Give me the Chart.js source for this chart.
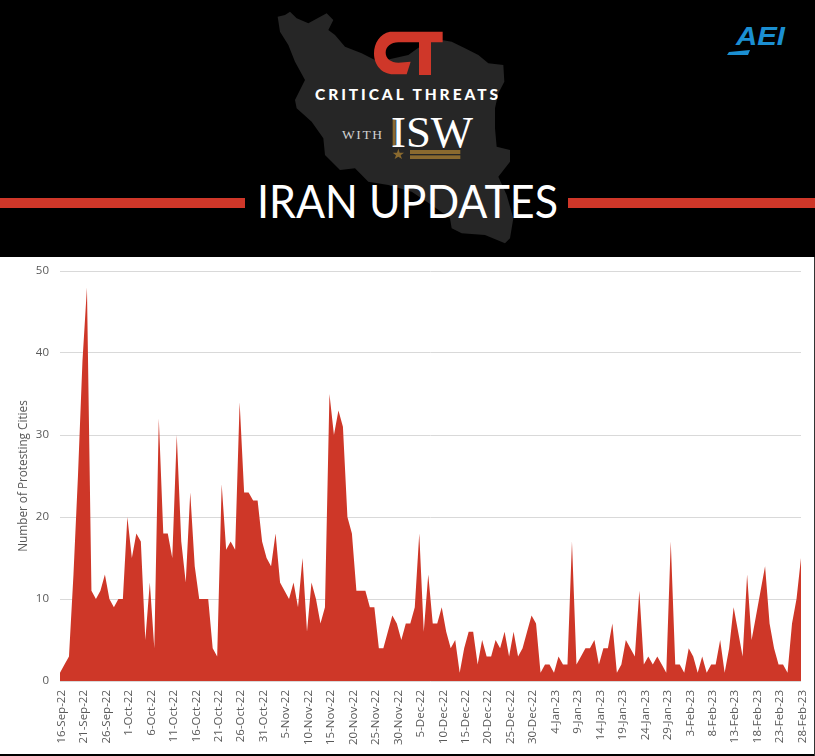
<!DOCTYPE html>
<html><head><meta charset="utf-8">
<style>
html,body{margin:0;padding:0;background:#fff;width:815px;height:756px;overflow:hidden}
#wrap{position:relative;width:815px;height:756px;background:#fff}
#head{position:absolute;left:0;top:0;display:block}
#chart{position:absolute;left:0;top:257px}
#b1{position:absolute;left:0;top:754px;width:815px;height:2px;background:#000}
#b2{position:absolute;left:814px;top:257px;width:1px;height:499px;background:#333}
</style>
<script src="https://cdn.jsdelivr.net/npm/chart.js@4"></script>
</head><body><div id="wrap">
<svg id="head" width="815" height="257" viewBox="0 0 815 257" xmlns="http://www.w3.org/2000/svg">
<rect width="815" height="257" fill="#000"/>
<g transform="translate(265,5) scale(0.33333)">
<polygon fill="#262626" points="38,35 60,30 75,20 95,40 130,55 185,25 205,45 190,75 210,90 240,125 290,145 340,170 430,150 500,100 560,110 600,130 640,150 670,175 715,180 718,230 700,265 690,310 690,370 695,425 735,435 735,470 700,515 725,570 745,640 735,700 720,715 660,690 590,685 560,670 555,640 500,600 440,560 370,540 310,530 270,490 225,495 180,450 175,400 140,350 95,310 90,285 120,225 90,170 70,120 45,80"/>
<path fill="#cf3729" d="M375,80 L533,80 L533,112 L498,112 L498,210 L462,210 L462,112 L400,112 C378,112 362,125 362,143 C362,160 378,173 400,173 L437,170 L425,208 L385,208 C350,208 327,180 327,145 C327,115 345,85 375,80 Z"/>
<rect x="383" y="340" width="9" height="85" fill="#8a6a2f"/>
<polygon fill="#8a6a2f" points="400,431 404,443 417,443 407,451 411,462 400,455 389,462 393,451 383,443 396,443"/>
<rect x="435" y="435" width="151" height="12" fill="#8a6a2f"/>
<rect x="435" y="451" width="151" height="11" fill="#8a6a2f"/>
</g>
<text x="315" y="100" font-family="Lato" font-weight="900" font-size="15.5" fill="#fff" textLength="183" lengthAdjust="spacing">CRITICAL THREATS</text>
<text x="342" y="139" font-family="Liberation Serif" font-size="13.5" fill="#d0d0d0" textLength="40" lengthAdjust="spacing">WITH</text>
<text x="391" y="147" font-family="Liberation Serif" font-size="45" fill="#fff" textLength="82" lengthAdjust="spacingAndGlyphs">ISW</text>
<rect x="0" y="198" width="245" height="10" fill="#cf3729"/>
<rect x="568" y="198" width="247" height="10" fill="#cf3729"/>
<text x="257" y="218" font-family="Lato" font-size="47" fill="#fff" textLength="301" lengthAdjust="spacingAndGlyphs">IRAN UPDATES</text>
<text x="736" y="45" font-family="Liberation Sans" font-weight="700" font-style="italic" font-size="26" fill="#1b8fd2" textLength="49" lengthAdjust="spacingAndGlyphs">AEI</text>
<polygon fill="#1b8fd2" points="727,55 729,52 750,50 748,55"/>
</svg>
<canvas id="chart" width="815" height="497"></canvas>
<div id="b1"></div><div id="b2"></div>
</div>
<script>
const tickLabels = ["16-Sep-22","21-Sep-22","26-Sep-22","1-Oct-22","6-Oct-22","11-Oct-22","16-Oct-22","21-Oct-22","26-Oct-22","31-Oct-22","5-Nov-22","10-Nov-22","15-Nov-22","20-Nov-22","25-Nov-22","30-Nov-22","5-Dec-22","10-Dec-22","15-Dec-22","20-Dec-22","25-Dec-22","30-Dec-22","4-Jan-23","9-Jan-23","14-Jan-23","19-Jan-23","24-Jan-23","29-Jan-23","3-Feb-23","8-Feb-23","13-Feb-23","18-Feb-23","23-Feb-23","28-Feb-23"];
const protestingCities = [
1,2,3,13,25,39,48,11,10,11,
13,10,9,10,10,20,15,18,17,5,
12,4,32,18,18,15,30,17,12,23,
14,10,10,10,4,3,24,16,17,16,
34,23,23,22,22,17,15,14,18,12,
11,10,12,9,15,6,12,10,7,9,
35,30,33,31,20,18,11,11,11,9,
9,4,4,6,8,7,5,7,7,9,
18,6,13,7,7,9,6,4,5,1,
4,6,6,2,5,3,3,5,4,6,
3,6,3,4,6,8,7,1,2,2,
1,3,2,2,17,2,3,4,4,5,
2,4,4,7,1,2,5,4,3,11,
2,3,2,3,2,1,17,2,2,1,
4,3,1,3,1,2,2,5,1,4,
9,6,3,13,5,8,11,14,7,4,
2,2,1,7,10,15];
const categories = protestingCities.map((_, i) => i % 5 === 0 ? tickLabels[i / 5] : "");
const areaColor = "#ce3728";
const fontFamily = "'Open Sans'";
new Chart(document.getElementById("chart"), {
  type: "line",
  data: { labels: categories, datasets: [{
    data: protestingCities, fill: "origin", backgroundColor: areaColor, borderWidth: 0,
    borderColor: areaColor, pointRadius: 0, tension: 0 }] },
  options: {
    responsive: false, animation: false, devicePixelRatio: 1,
    layout: { padding: { top: 14, right: 14, bottom: 0, left: 0 } },
    plugins: { legend: { display: false }, tooltip: { enabled: false } },
    scales: {
      x: { type: "category", offset: false,
        grid: { display: false, drawTicks: false }, border: { display: false },
        afterFit(s) { s.height = 73; s.paddingLeft = 0; s.paddingRight = 0; },
        ticks: { autoSkip: false, maxRotation: 90, minRotation: 90, padding: 9, labelOffset: 1.5,
          color: "#595959", font: { family: fontFamily, size: 11.5 } } },
      y: { min: 0, max: 50,
        grid: { color: "#d9d9d9", lineWidth: 1, drawTicks: false }, border: { display: false },
        afterFit(s) { s.width = 60; s.paddingTop = 0; s.paddingBottom = 0; },
        title: { display: true, text: "Number of Protesting Cities", color: "#595959",
          font: { family: fontFamily, size: 11.75 }, padding: { top: 17, bottom: 0 } },
        ticks: { stepSize: 10, padding: 11, color: "#595959", font: { family: fontFamily, size: 11.5 } } }
    }
  }
});
</script></body></html>
